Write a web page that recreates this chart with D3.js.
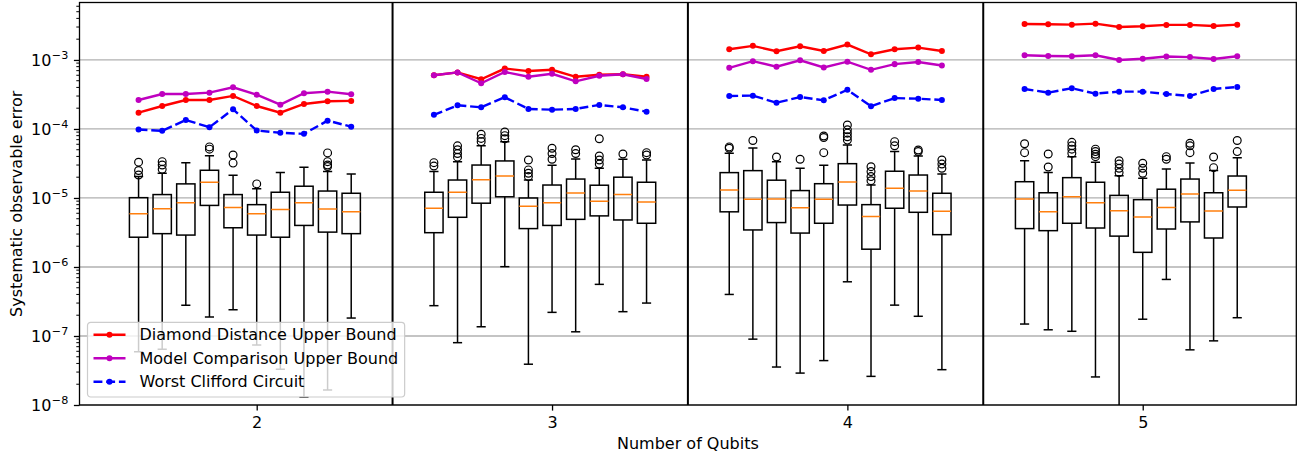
<!DOCTYPE html>
<html>
<head>
<meta charset="utf-8">
<script src="https://cdn.jsdelivr.net/npm/d3@7"></script>
<style>
  body { margin: 0; background: #fff; }
  svg { display: block; font-family: "DejaVu Sans", sans-serif; }
</style>
</head>
<body>
<div id="chart-area"></div>
<script>
// Data
const qubits = [2, 3, 4, 5];
const seriesNames = ['Diamond Distance Upper Bound', 'Model Comparison Upper Bound', 'Worst Clifford Circuit'];
const yTickExponents = [-8, -7, -6, -5, -4, -3];

// one row per qubit count, 10 values each
const diamondBound = [
  [1.72e-4, 2.15e-4, 2.63e-4, 2.63e-4, 3.01e-4, 2.15e-4, 1.72e-4, 2.30e-4, 2.52e-4, 2.55e-4],
  [6.0e-4, 6.6e-4, 5.25e-4, 7.5e-4, 6.9e-4, 7.2e-4, 5.7e-4, 6.1e-4, 6.2e-4, 5.7e-4],
  [1.43e-3, 1.6e-3, 1.34e-3, 1.58e-3, 1.35e-3, 1.67e-3, 1.21e-3, 1.43e-3, 1.51e-3, 1.35e-3],
  [3.32e-3, 3.29e-3, 3.25e-3, 3.36e-3, 3.01e-3, 3.08e-3, 3.22e-3, 3.22e-3, 3.11e-3, 3.25e-3],
];
const modelBound = [
  [2.63e-4, 3.21e-4, 3.21e-4, 3.36e-4, 4.02e-4, 3.14e-4, 2.25e-4, 3.29e-4, 3.47e-4, 3.18e-4],
  [6.0e-4, 6.6e-4, 4.6e-4, 6.7e-4, 5.7e-4, 6.3e-4, 4.9e-4, 5.9e-4, 6.2e-4, 5.3e-4],
  [7.7e-4, 9.6e-4, 8.0e-4, 9.9e-4, 7.8e-4, 9.45e-4, 7.2e-4, 8.7e-4, 9.35e-4, 8.3e-4],
  [1.17e-3, 1.14e-3, 1.13e-3, 1.17e-3, 1.0e-3, 1.04e-3, 1.12e-3, 1.1e-3, 1.03e-3, 1.13e-3],
];
const worstClifford = [
  [9.8e-5, 9.4e-5, 1.35e-4, 1.06e-4, 1.93e-4, 9.5e-5, 8.8e-5, 8.5e-5, 1.32e-4, 1.08e-4],
  [1.6e-4, 2.2e-4, 2.06e-4, 2.88e-4, 1.95e-4, 1.9e-4, 1.95e-4, 2.23e-4, 2.06e-4, 1.78e-4],
  [3.0e-4, 3.04e-4, 2.4e-4, 2.9e-4, 2.6e-4, 3.7e-4, 2.13e-4, 2.8e-4, 2.75e-4, 2.63e-4],
  [3.8e-4, 3.36e-4, 3.89e-4, 3.25e-4, 3.47e-4, 3.47e-4, 3.21e-4, 3.01e-4, 3.8e-4, 4.06e-4],
];

// box stats: [whisker low, q1, median, q3, whisker high]
const boxes2 = [
  [5.9e-8, 2.7e-6, 5.9e-6, 1.01e-5, 2.04e-5],
  [6.4e-8, 3.04e-6, 7.0e-6, 1.12e-5, 2.28e-5],
  [2.8e-7, 2.9e-6, 8.5e-6, 1.6e-5, 3.25e-5],
  [1.88e-7, 7.8e-6, 1.69e-5, 2.52e-5, 4.1e-5],
  [2.4e-7, 3.7e-6, 7.3e-6, 1.12e-5, 2.13e-5],
  [7.4e-8, 2.9e-6, 5.9e-6, 8.0e-6, 1.36e-5],
  [3.3e-8, 2.7e-6, 6.8e-6, 1.21e-5, 2.33e-5],
  [1.3e-8, 4.0e-6, 8.5e-6, 1.48e-5, 2.79e-5],
  [1.65e-8, 3.2e-6, 6.9e-6, 1.26e-5, 2.41e-5],
  [1.82e-7, 3.04e-6, 6.3e-6, 1.17e-5, 2.23e-5],
];
const fliers2 = [
  [3.3e-5, 2.5e-5, 2.15e-5], [3.36e-5, 3.0e-5, 2.6e-5], [], [5.5e-5, 5.1e-5], [4.2e-5, 3.2e-5],
  [1.6e-5], [], [], [4.5e-5, 3.36e-5, 3.0e-5, 2.85e-5], [],
];
const boxes3 = [
  [2.75e-7, 3.14e-6, 7.1e-6, 1.21e-5, 2.41e-5],
  [8.0e-8, 5.25e-6, 1.21e-5, 1.82e-5, 3.36e-5],
  [1.36e-7, 8.4e-6, 1.84e-5, 3.0e-5, 5.7e-5],
  [1.01e-6, 1.04e-5, 2.08e-5, 3.44e-5, 6.55e-5],
  [3.9e-8, 3.6e-6, 7.6e-6, 1.0e-5, 1.82e-5],
  [2.2e-7, 4.0e-6, 8.55e-6, 1.54e-5, 2.98e-5],
  [1.15e-7, 4.9e-6, 1.18e-5, 1.88e-5, 3.67e-5],
  [5.6e-7, 5.5e-6, 9.0e-6, 1.53e-5, 2.69e-5],
  [2.25e-7, 4.8e-6, 1.12e-5, 2.0e-5, 3.64e-5],
  [3.0e-7, 4.3e-6, 8.75e-6, 1.69e-5, 3.55e-5],
];
const fliers3 = [
  [3.25e-5, 2.9e-5], [5.7e-5, 5.0e-5, 4.4e-5, 3.9e-5], [8.4e-5, 7.3e-5, 6.55e-5],
  [9.05e-5, 8.0e-5, 7.2e-5], [3.55e-5, 2.55e-5, 2.28e-5, 2.04e-5], [5.25e-5, 4.4e-5, 3.64e-5],
  [5.0e-5, 4.4e-5], [7.2e-5, 4.06e-5, 3.55e-5, 3.1e-5], [4.34e-5], [4.54e-5, 4.2e-5],
];
const boxes4 = [
  [4.0e-7, 6.3e-6, 1.31e-5, 2.33e-5, 4.44e-5],
  [9.0e-8, 3.44e-6, 9.6e-6, 2.49e-5, 5.3e-5],
  [3.55e-8, 4.4e-6, 9.7e-6, 1.81e-5, 3.36e-5],
  [2.9e-8, 3.1e-6, 7.2e-6, 1.28e-5, 2.69e-5],
  [4.4e-8, 4.3e-6, 9.6e-6, 1.61e-5, 2.98e-5],
  [6.1e-7, 7.9e-6, 1.71e-5, 3.14e-5, 5.86e-5],
  [2.6e-8, 1.81e-6, 5.4e-6, 8.0e-6, 1.54e-5],
  [2.8e-7, 7.1e-6, 1.38e-5, 2.44e-5, 4.7e-5],
  [1.93e-7, 6.2e-6, 1.26e-5, 2.15e-5, 4.06e-5],
  [3.25e-8, 2.94e-6, 6.4e-6, 1.17e-5, 2.23e-5],
];
const fliers4 = [
  [5.5e-5, 5.25e-5], [6.8e-5], [3.93e-5], [3.64e-5], [7.9e-5, 7.5e-5, 4.54e-5],
  [1.14e-4, 9.7e-5, 8.7e-5, 7.7e-5, 6.9e-5], [2.84e-5, 2.41e-5, 2.04e-5, 1.78e-5],
  [6.55e-5, 5.7e-5], [4.96e-5, 4.7e-5], [3.55e-5, 3.1e-5, 2.69e-5],
];
const boxes5 = [
  [1.49e-7, 3.6e-6, 9.7e-6, 1.72e-5, 3.47e-5],
  [1.23e-7, 3.36e-6, 6.3e-6, 1.19e-5, 2.33e-5],
  [1.17e-7, 4.3e-6, 1.04e-5, 1.97e-5, 3.97e-5],
  [2.55e-8, 3.67e-6, 8.55e-6, 1.69e-5, 3.29e-5],
  [5e-9, 2.8e-6, 6.55e-6, 1.09e-5, 2.1e-5],
  [1.75e-7, 1.63e-6, 5.3e-6, 9.45e-6, 1.93e-5],
  [6.6e-7, 3.55e-6, 7.3e-6, 1.34e-5, 2.63e-5],
  [6.3e-8, 4.5e-6, 1.14e-5, 1.88e-5, 3.21e-5],
  [8.5e-8, 2.63e-6, 6.5e-6, 1.19e-5, 2.5e-5],
  [1.84e-7, 7.4e-6, 1.29e-5, 2.08e-5, 3.84e-5],
];
const fliers5 = [
  [6.1e-5, 4.54e-5], [4.34e-5, 2.81e-5], [6.4e-5, 5.7e-5, 5.1e-5, 4.44e-5],
  [5.1e-5, 4.7e-5, 4.3e-5, 3.97e-5], [3.47e-5, 3.1e-5, 2.69e-5, 2.33e-5],
  [3.18e-5, 2.69e-5, 2.28e-5], [3.97e-5, 3.64e-5], [6.2e-5, 5.7e-5, 4.54e-5],
  [3.93e-5, 2.75e-5], [6.8e-5, 4.7e-5],
];

const boxStats = [boxes2, boxes3, boxes4, boxes5];
const boxFliers = [fliers2, fliers3, fliers4, fliers5];

// Layout
const width = 1312;
const height = 459;
const margin = { top: 2.5, right: 15.7, bottom: 54, left: 79.5 };
const innerWidth = width - margin.left - margin.right;
const innerHeight = height - margin.top - margin.bottom;
const fontSize = 16;

const step = 0.08;       // spacing of boxes inside a group
const boxWidth = 0.062;
const slot = (q, i) => q + (i - 5) * step;

const svg = d3.select('#chart-area')
  .append('svg')
  .attr('width', width)
  .attr('height', height);

const gRoot = svg.append('g')
  .attr('transform', `translate(${margin.left}, ${margin.top})`);

svg.append('defs').append('clipPath')
  .attr('id', 'plot-clip')
  .append('rect')
  .attr('width', innerWidth)
  .attr('height', innerHeight);

// Scales
const xScale = d3.scaleLinear()
  .domain([1.40, 5.52])
  .range([0, innerWidth]);

const yScale = d3.scaleLog()
  .domain([1e-8, 6.8e-3])
  .range([innerHeight, 0]);

const decades = yTickExponents.map((e) => Math.pow(10, e));

// Grid
gRoot.append('g')
  .selectAll('line')
  .data(decades)
  .enter()
  .append('line')
  .attr('x1', 0)
  .attr('x2', innerWidth)
  .attr('y1', (d) => yScale(d))
  .attr('y2', (d) => yScale(d))
  .attr('stroke', '#b0b0b0')
  .attr('stroke-width', 1.3);

const plot = gRoot.append('g').attr('clip-path', 'url(#plot-clip)');

// Boxes
const boxRows = [];
qubits.forEach((q, gi) => {
  boxStats[gi].forEach((s, i) => {
    boxRows.push({ x: slot(q, i), s, fliers: boxFliers[gi][i] });
  });
});

const bw = xScale(boxWidth) - xScale(0);
const gBoxes = plot.selectAll('g.box')
  .data(boxRows)
  .enter()
  .append('g')
  .attr('class', 'box')
  .attr('transform', (d) => `translate(${xScale(d.x)}, 0)`);

const lineStyle = (sel, color) => sel.attr('stroke', color || '#000').attr('stroke-width', 1.5).attr('fill', 'none');

gBoxes.append('line')
  .attr('y1', (d) => yScale(d.s[1]))
  .attr('y2', (d) => yScale(d.s[0]))
  .call(lineStyle);
gBoxes.append('line')
  .attr('y1', (d) => yScale(d.s[3]))
  .attr('y2', (d) => yScale(d.s[4]))
  .call(lineStyle);
[0, 4].forEach((k) => {
  gBoxes.append('line')
    .attr('x1', -bw / 4)
    .attr('x2', bw / 4)
    .attr('y1', (d) => yScale(d.s[k]))
    .attr('y2', (d) => yScale(d.s[k]))
    .call(lineStyle);
});
gBoxes.append('rect')
  .attr('x', -bw / 2)
  .attr('width', bw)
  .attr('y', (d) => yScale(d.s[3]))
  .attr('height', (d) => yScale(d.s[1]) - yScale(d.s[3]))
  .call(lineStyle);
gBoxes.append('line')
  .attr('x1', -bw / 2)
  .attr('x2', bw / 2)
  .attr('y1', (d) => yScale(d.s[2]))
  .attr('y2', (d) => yScale(d.s[2]))
  .call(lineStyle, '#ff7f0e');
gBoxes.selectAll('circle')
  .data((d) => d.fliers)
  .enter()
  .append('circle')
  .attr('cy', (d) => yScale(d))
  .attr('r', 3.9)
  .attr('fill', 'none')
  .attr('stroke', '#000')
  .attr('stroke-width', 1.2);

// Group separators
gRoot.append('g')
  .selectAll('line')
  .data(qubits.slice(0, -1).map((q) => q + 0.46))
  .enter()
  .append('line')
  .attr('x1', (d) => xScale(d))
  .attr('x2', (d) => xScale(d))
  .attr('y1', 0)
  .attr('y2', innerHeight)
  .attr('stroke', '#000')
  .attr('stroke-width', 2);

// Bound lines
const series = [
  { name: seriesNames[0], values: diamondBound, color: '#ff0000', dash: null },
  { name: seriesNames[1], values: modelBound, color: '#bf00bf', dash: null },
  { name: seriesNames[2], values: worstClifford, color: '#0000ff', dash: '8.9,3.8' },
];

const line = d3.line()
  .x((d) => xScale(d.x))
  .y((d) => yScale(d.v));

series.forEach((sr) => {
  const gSeries = plot.append('g');
  qubits.forEach((q, gi) => {
    const pts = sr.values[gi].map((v, i) => ({ x: slot(q, i), v }));
    gSeries.append('path')
      .datum(pts)
      .attr('d', line)
      .attr('fill', 'none')
      .attr('stroke', sr.color)
      .attr('stroke-width', 2.4)
      .attr('stroke-dasharray', sr.dash);
    gSeries.selectAll(null)
      .data(pts)
      .enter()
      .append('circle')
      .attr('cx', (d) => xScale(d.x))
      .attr('cy', (d) => yScale(d.v))
      .attr('r', 3)
      .attr('fill', sr.color);
  });
});

// Frame
gRoot.append('rect')
  .attr('width', innerWidth)
  .attr('height', innerHeight)
  .attr('fill', 'none')
  .attr('stroke', '#000')
  .attr('stroke-width', 1.3);

// X axis
const gXAxis = gRoot.append('g')
  .attr('transform', `translate(0, ${innerHeight})`)
  .call(d3.axisBottom(xScale).tickValues(qubits).tickSize(5.6).tickPadding(5.6).tickFormat(d3.format('d')));
gXAxis.select('.domain').remove();
gXAxis.attr('font-size', fontSize).attr('font-family', null);
gXAxis.selectAll('.tick line').attr('stroke-width', 1.3);

// Y axis, major ticks (labels drawn below as 10^n)
const gYAxis = gRoot.append('g')
  .call(d3.axisLeft(yScale).tickValues(decades).tickSize(5.6).tickFormat(() => ''));
gYAxis.select('.domain').remove();
gYAxis.selectAll('.tick text').remove();
gYAxis.selectAll('.tick line').attr('stroke-width', 1.3);

const gYLabels = gRoot.append('g').attr('font-size', fontSize);
decades.forEach((d) => {
  const yPos = yScale(d);
  const sup = gYLabels.append('text')
    .attr('x', -11.2)
    .attr('y', yPos - 1)
    .attr('text-anchor', 'end')
    .attr('font-size', 11.2)
    .text('\u2212' + Math.abs(Math.round(Math.log10(d))));
  const supLen = sup.node().getComputedTextLength();
  gYLabels.append('text')
    .attr('x', -11.2 - supLen - 0.5)
    .attr('y', yPos)
    .attr('dy', '0.36em')
    .attr('text-anchor', 'end')
    .text('10');
});

// Y axis, minor ticks
const minorTicks = [];
yTickExponents.forEach((e) => {
  for (let m = 2; m <= 9; m++) {
    const v = m * Math.pow(10, e);
    if (v <= yScale.domain()[1]) minorTicks.push(v);
  }
});
gRoot.append('g')
  .selectAll('line')
  .data(minorTicks)
  .enter()
  .append('line')
  .attr('x1', -3.2)
  .attr('x2', 0)
  .attr('y1', (d) => yScale(d))
  .attr('y2', (d) => yScale(d))
  .attr('stroke', '#000')
  .attr('stroke-width', 1);

// Axis labels
gRoot.append('text')
  .attr('x', innerWidth / 2)
  .attr('y', innerHeight + 43.5)
  .attr('text-anchor', 'middle')
  .attr('font-size', fontSize)
  .text('Number of Qubits');

gRoot.append('text')
  .attr('transform', `translate(${22.2 - margin.left}, ${innerHeight / 2}) rotate(-90)`)
  .attr('text-anchor', 'middle')
  .attr('font-size', fontSize)
  .text('Systematic observable error');

// Legend (lower left)
const legend = gRoot.append('g')
  .attr('transform', `translate(8, ${innerHeight - 8 - 74.7})`);
const legendBg = legend.append('rect')
  .attr('rx', 3.2)
  .attr('ry', 3.2)
  .attr('height', 74.7)
  .attr('fill', '#fff')
  .attr('fill-opacity', 0.8)
  .attr('stroke', '#cccccc')
  .attr('stroke-width', 1.2);

const legendRows = legend.selectAll('g.legend-row')
  .data(series)
  .enter()
  .append('g')
  .attr('class', 'legend-row')
  .attr('transform', (d, i) => `translate(0, ${12.4 + i * 23.5})`);
legendRows.append('line')
  .attr('x1', 6)
  .attr('x2', 38)
  .attr('stroke', (d) => d.color)
  .attr('stroke-width', 2.4)
  .attr('stroke-dasharray', (d) => d.dash);
legendRows.append('circle')
  .attr('cx', 22)
  .attr('r', 3)
  .attr('fill', (d) => d.color);
legendRows.append('text')
  .attr('x', 52)
  .attr('dy', '0.35em')
  .attr('font-size', fontSize)
  .attr('fill', '#000')
  .text((d) => d.name);

let maxText = 0;
legendRows.selectAll('text').each(function () {
  maxText = Math.max(maxText, this.getComputedTextLength());
});
legendBg.attr('width', 52 + maxText + 6.4);
</script>
</body>
</html>
